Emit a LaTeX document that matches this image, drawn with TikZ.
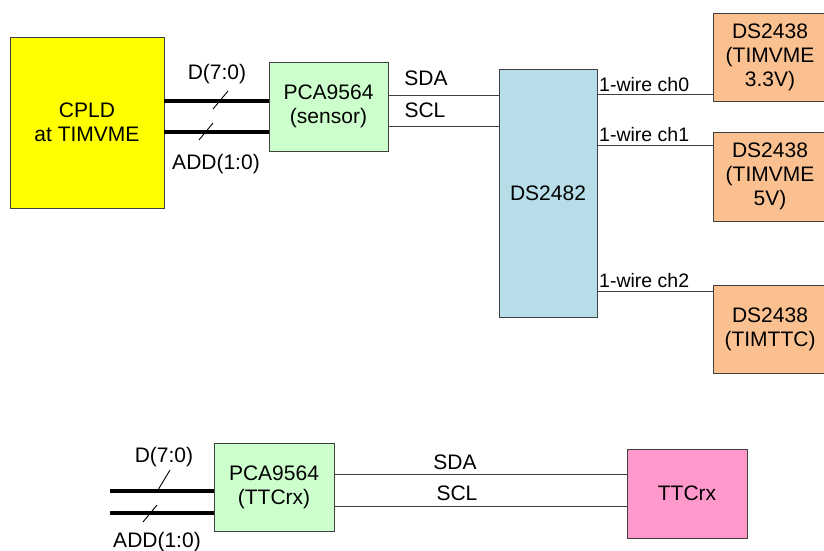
\documentclass[tikz,border=0pt]{standalone}
\usepackage{fontspec}
\setmainfont{Liberation Sans}
\definecolor{cpldy}{HTML}{FFFF00}
\definecolor{pcag}{HTML}{CCFFCC}
\definecolor{dsb}{HTML}{B7DEE8}
\definecolor{dso}{HTML}{FAC090}
\definecolor{ttcp}{HTML}{FF99CC}
\definecolor{ln}{HTML}{404040}
\begin{document}
\begin{tikzpicture}[x=1pt,y=-1pt,
  box/.style={draw=ln,line width=0.9pt,inner sep=0pt,align=center,
    font=\fontsize{21}{24}\selectfont},
  wire/.style={draw=ln,line width=0.9pt},
  bus/.style={draw=black,line width=4.5pt},
  bus2/.style={draw=black,line width=3.5pt},
  tick/.style={draw=black,line width=0.9pt},
  lbl/.style={font=\fontsize{21}{24}\selectfont,inner sep=0pt},
  wl/.style={font=\fontsize{19.5}{22}\selectfont,inner sep=0pt,anchor=base west}]
\useasboundingbox[fill=white] (0,0) rectangle (824,551);
% boxes
\node[box,fill=cpldy,minimum width=154,minimum height=171] (cpld) at (87,122.5) {CPLD\\at TIMVME};
\node[box,fill=pcag,minimum width=119,minimum height=89] (pca1) at (328.5,106.5) {PCA9564\\(sensor)};
\node[box,fill=dsb,minimum width=98,minimum height=248] (ds) at (548,193) {DS2482};
\node[box,fill=dso,minimum width=114,minimum height=88] (t1) at (770,57) {DS2438\\(TIMVME\\3.3V)};
\node[box,fill=dso,minimum width=114,minimum height=89] (t2) at (770,176.5) {DS2438\\(TIMVME\\5V)};
\node[box,fill=dso,minimum width=114,minimum height=88] (t3) at (770,329) {DS2438\\(TIMTTC)};
\node[box,fill=pcag,minimum width=120,minimum height=88] (pca2) at (274,487) {PCA9564\\(TTCrx)};
\node[box,fill=ttcp,minimum width=120,minimum height=89] (ttc) at (687,493.5) {TTCrx};
% free ends of bottom buses
\coordinate (bd) at (110,491);
\coordinate (ba) at (110,513);
% top buses
\draw[bus] (cpld.east |- 0,101) -- (pca1.west |- 0,101);
\draw[bus2] (cpld.east |- 0,132) -- (pca1.west |- 0,132);
\draw[tick] (213,109) -- (228,91);
\draw[tick] (199,140) -- (213,123);
\node[lbl] (dl1) at (217,74) {D(7:0)};
\node[lbl] (al1) at (216,164) {ADD(1:0)};
% I2C top
\draw[wire] (pca1.east |- 0,95) -- (ds.west |- 0,95);
\draw[wire] (pca1.east |- 0,126) -- (ds.west |- 0,126);
\node[lbl] (sda1) at (426,78) {SDA};
\node[lbl] (scl1) at (425,110) {SCL};
% 1-wire
\draw[wire] (ds.east |- 0,94) -- (t1.west |- 0,94);
\draw[wire] (ds.east |- 0,145) -- (t2.west |- 0,145);
\draw[wire] (ds.east |- 0,291) -- (t3.west |- 0,291);
\node[wl] (w0) at (599,91) {1-wire ch0};
\node[wl] (w1) at (599,141) {1-wire ch1};
\node[wl] (w2) at (599,287) {1-wire ch2};
% bottom buses
\draw[bus] (bd) -- (pca2.west |- bd);
\draw[bus2] (ba) -- (pca2.west |- ba);
\draw[tick] (158,490) -- (170,470);
\draw[tick] (143,522) -- (157,505);
\node[lbl] (dl2) at (164,457) {D(7:0)};
\node[lbl] (al2) at (157,542) {ADD(1:0)};
% I2C bottom
\draw[wire] (pca2.east |- 0,474) -- (ttc.west |- 0,474);
\draw[wire] (pca2.east |- 0,506) -- (ttc.west |- 0,506);
\node[lbl] (sda2) at (455,462) {SDA};
\node[lbl] (scl2) at (457,493) {SCL};
\end{tikzpicture}
\end{document}
